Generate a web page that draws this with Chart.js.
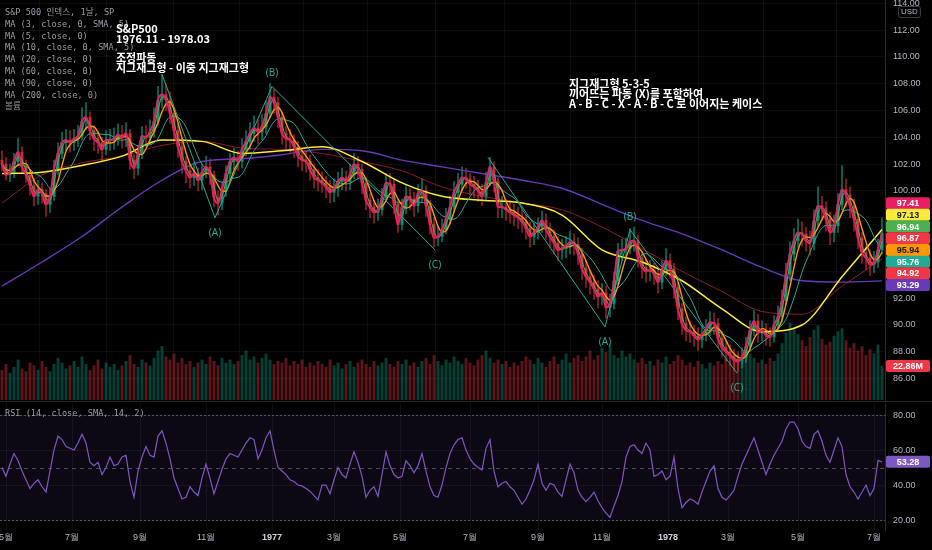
<!DOCTYPE html>
<html>
<head>
<meta charset="utf-8">
<script src="https://cdn.jsdelivr.net/npm/chart.js@4.4.1/dist/chart.umd.min.js"></script>
<style>
body { margin: 0; background: #000; width: 932px; height: 550px; overflow: hidden; position: relative; }
canvas { position: absolute; left: 0; }
#price { top: 0; }
#rsi { top: 402px; }
.legend { position: absolute; left: 5px; font: 8.6px "DejaVu Sans Mono", "Noto Sans CJK KR", monospace; color: #9a9da4; line-height: 11.8px; white-space: pre; }
.note { position: absolute; color: #fff; font: bold 11px "Noto Sans CJK KR", "Noto Sans", sans-serif; line-height: 9.8px; white-space: pre; }
.usd { position: absolute; left: 898px; top: 6px; padding: 0 2px; border: 1px solid #3a3d45; border-radius: 3px; background: #000; color: #b2b5be; font: 8px "Liberation Sans", sans-serif; line-height: 10px; }
</style>
</head>
<body>
<canvas id="price" width="932" height="402"></canvas>
<canvas id="rsi" width="932" height="148"></canvas>
<div class="legend" style="top:7px">S&amp;P 500 인덱스, 1날, SP
MA (3, close, 0, SMA, 5)
MA (5, close, 0)
MA (10, close, 0, SMA, 5)
MA (20, close, 0)
MA (60, close, 0)
MA (90, close, 0)
MA (200, close, 0)
볼륨</div>
<div class="note" style="left:116px;top:24px">S&amp;P500
1976.11 - 1978.03

조정파동
지그재그형 - 이중 지그재그형</div>
<div class="note" style="left:569px;top:79px">지그재그형 5-3-5
끼어뜨는 파동 (X)를 포함하여
A - B - C - X - A - B - C 로 이어지는 케이스</div>
<div class="legend" style="top:408px">RSI (14, close, SMA, 14, 2)</div>
<div class="usd">USD</div>
<script>
// S&P 500, May 1976 - Jul 1978, one bar ~ 2.5 trading days
const firstOpen = 102.3;
const closes = [
  102.0, 101.2, 101.4, 102.2, 102.9, 101.8, 101.2, 100.4, 99.6, 100.1,
  99.8, 99.0, 99.6, 101.6, 102.8, 103.6, 103.8, 103.6, 103.9, 104.1,
  105.2, 105.5, 104.5, 103.9, 103.6, 103.1, 103.8, 103.8, 103.9, 104.2,
  104.0, 104.3, 102.3, 101.7, 102.8, 104.1, 104.0, 104.4, 105.2, 106.8,
  107.2, 106.8, 105.8, 104.5, 103.3, 102.2, 101.5, 101.0, 101.3, 100.8,
  101.4, 101.8, 101.2, 99.5, 99.1, 100.1, 101.3, 102.2, 102.5, 102.2,
  103.1, 103.7, 104.3, 104.7, 104.4, 104.8, 105.8, 107.0, 106.6, 105.5,
  104.3, 103.9, 103.8, 103.3, 102.6, 102.3, 102.2, 101.6, 101.0, 100.8,
  100.6, 100.3, 99.9, 100.2, 100.7, 101.0, 100.7, 101.2, 102.0, 101.6,
  100.6, 99.3, 98.8, 98.4, 98.6, 99.5, 100.6, 100.5, 99.0, 97.5,
  98.8, 99.6, 99.4, 98.9, 99.8, 100.0, 98.9, 97.5, 96.5, 96.6,
  97.1, 97.9, 98.8, 99.9, 100.5, 101.0, 100.9, 100.5, 100.3, 100.0,
  99.6, 100.6, 101.8, 100.7, 98.8, 98.8, 98.6, 98.4, 98.2, 98.0,
  97.7, 97.2, 96.6, 96.9, 97.3, 97.8, 97.1, 96.6, 96.1, 95.6,
  95.7, 95.9, 96.2, 96.0, 95.3, 94.2, 93.6, 93.2, 92.7, 92.1,
  92.4, 91.3, 91.6, 93.3, 95.5, 95.6, 95.7, 96.2, 96.3, 95.0,
  94.3, 94.0, 94.1, 93.8, 93.2, 94.1, 94.8, 94.2, 92.8, 91.2,
  90.1, 89.6, 89.5, 89.2, 88.9, 89.3, 89.7, 90.2, 90.1, 89.0,
  88.3, 88.0, 87.7, 87.4, 87.3, 87.6, 88.4, 89.6, 90.3, 89.4,
  89.6, 89.2, 89.1, 90.0, 90.6, 91.8, 93.8, 95.3, 96.3, 96.9,
  96.8, 96.3, 96.1, 97.8, 98.9, 98.7, 97.9, 96.9, 97.4, 99.0,
  100.1, 99.7, 98.9, 97.9, 96.5, 95.4, 95.0, 94.5, 94.7, 95.6, 96.87
];
const highs = [
  103.0, 102.5, 102.0, 102.8, 103.9, 103.3, 102.3, 101.6, 100.9, 100.8,
  100.6, 100.1, 100.2, 102.3, 103.6, 104.4, 104.6, 104.5, 104.6, 104.9,
  106.2, 106.6, 105.9, 104.9, 104.4, 104.0, 104.5, 104.6, 104.7, 105.0,
  104.9, 105.1, 104.6, 102.7, 103.4, 104.8, 104.9, 105.3, 106.2, 107.8,
  108.7, 108.0, 107.4, 106.2, 105.0, 103.8, 102.6, 102.0, 102.1, 101.7,
  102.0, 102.6, 102.4, 101.5, 100.0, 100.7, 101.9, 102.8, 103.2, 103.0,
  103.9, 104.5, 105.1, 105.6, 105.3, 105.7, 106.7, 108.0, 107.6, 107.0,
  105.9, 104.8, 104.6, 104.2, 103.7, 103.2, 103.0, 102.7, 102.0, 101.6,
  101.4, 101.1, 100.8, 100.9, 101.4, 101.7, 101.5, 102.0, 102.8, 102.6,
  102.0, 101.0, 99.8, 99.3, 99.4, 100.2, 101.3, 101.3, 100.9, 99.4,
  99.4, 100.4, 100.2, 99.9, 100.5, 100.9, 100.4, 99.3, 98.0, 97.3,
  97.9, 98.7, 99.6, 100.7, 101.3, 101.8, 101.7, 101.3, 101.1, 100.8,
  100.5, 101.4, 102.5, 102.2, 101.0, 99.6, 99.4, 99.3, 99.0, 98.8,
  98.6, 98.2, 97.7, 97.6, 98.0, 98.5, 98.3, 97.6, 97.1, 96.6,
  96.4, 96.6, 97.0, 96.8, 96.5, 95.7, 94.8, 94.1, 93.7, 93.3,
  93.1, 92.9, 92.3, 93.9, 96.1, 96.4, 96.5, 97.2, 97.3, 96.7,
  95.5, 94.9, 94.8, 94.6, 94.3, 94.8, 95.7, 95.3, 94.6, 93.2,
  91.6, 90.6, 90.3, 90.0, 89.8, 90.0, 90.4, 91.0, 90.9, 90.5,
  89.5, 88.8, 88.5, 88.2, 88.0, 88.3, 89.1, 90.3, 91.1, 90.8,
  90.3, 90.1, 89.8, 90.7, 91.4, 92.6, 94.6, 96.2, 97.2, 97.9,
  97.7, 97.3, 97.0, 98.6, 100.3, 99.6, 99.2, 98.4, 98.2, 99.8,
  101.9, 100.9, 100.3, 99.4, 98.3, 96.9, 95.9, 95.6, 95.5, 96.4, 98.0
];
const lows = [
  101.5, 100.8, 100.7, 101.0, 101.9, 101.3, 100.6, 99.7, 98.9, 99.0,
  99.1, 98.1, 98.4, 99.3, 101.2, 102.4, 103.0, 102.9, 103.0, 103.3,
  103.8, 104.6, 103.8, 103.0, 102.8, 102.2, 102.7, 103.0, 103.1, 103.4,
  103.2, 103.3, 101.6, 100.9, 101.2, 102.4, 103.3, 103.6, 104.0, 104.9,
  106.2, 106.0, 105.0, 103.7, 102.5, 101.3, 100.6, 100.2, 100.4, 100.0,
  100.1, 101.0, 100.5, 98.8, 98.2, 98.6, 99.6, 100.8, 101.6, 101.5,
  101.7, 102.6, 103.1, 103.7, 103.5, 103.8, 104.3, 105.5, 105.8, 104.7,
  103.5, 103.0, 102.9, 102.5, 101.8, 101.5, 101.4, 100.8, 100.2, 100.0,
  99.9, 99.5, 99.1, 99.2, 99.6, 100.1, 100.0, 100.1, 100.9, 100.9,
  99.8, 98.6, 98.0, 97.6, 97.8, 98.2, 99.2, 99.8, 98.3, 96.9,
  97.1, 98.3, 98.6, 98.1, 98.4, 99.2, 98.1, 96.8, 95.8, 95.9,
  96.2, 96.8, 97.5, 98.4, 99.4, 100.0, 100.2, 99.7, 99.5, 99.2,
  98.9, 99.3, 100.4, 99.9, 98.0, 98.0, 97.8, 97.6, 97.4, 97.2,
  96.9, 96.4, 95.8, 96.0, 96.4, 96.9, 96.4, 95.8, 95.3, 94.8,
  94.9, 95.0, 95.3, 95.2, 94.5, 93.4, 92.8, 92.3, 91.9, 91.3,
  91.5, 90.5, 90.6, 91.2, 93.0, 94.8, 94.9, 95.3, 95.5, 94.3,
  93.5, 93.2, 93.3, 93.0, 92.4, 92.7, 93.7, 93.5, 92.0, 90.4,
  89.3, 88.8, 88.7, 88.4, 88.1, 88.3, 88.8, 89.2, 89.3, 88.3,
  87.6, 87.3, 87.0, 86.6, 86.5, 86.8, 87.2, 88.1, 89.2, 88.7,
  88.8, 88.5, 88.4, 88.7, 89.6, 90.2, 91.5, 93.3, 94.8, 95.8,
  95.9, 95.5, 95.2, 95.6, 97.3, 97.8, 97.0, 96.0, 96.2, 96.9,
  98.6, 98.8, 98.0, 97.0, 95.7, 94.6, 94.1, 93.7, 93.9, 94.3, 95.3
];
// volume, millions of shares
const volumes = [
  20, 24, 18, 22, 27, 21, 19, 25, 23, 20,
  26, 22, 19, 24, 28, 25, 21, 23, 26, 22,
  29, 24, 20, 23, 27, 21, 25, 22, 24, 20,
  23, 26, 30, 24, 22, 27, 25, 23, 28, 33,
  36, 29, 27, 31, 25, 28, 24, 26, 22, 25,
  27, 24, 29, 26, 23, 28, 25, 27, 24, 26,
  30, 33, 27, 29, 25, 28, 31, 27, 24, 26,
  25, 28, 23, 26, 24, 27, 22, 25, 23, 26,
  24, 22, 27, 23, 25, 21, 24, 26, 22, 25,
  27, 24, 22, 26, 23, 25, 28, 24, 22, 26,
  24, 27, 23, 25, 22, 26, 28, 24, 30, 26,
  23, 27, 25, 29, 26, 24, 28, 25, 23, 27,
  30, 33, 28, 25, 27, 24, 26, 22, 25, 23,
  26, 29, 27, 24, 28, 25, 22, 26, 29, 24,
  27, 31, 25, 28, 30, 26, 29, 33, 27, 30,
  35, 32, 37, 30, 28, 33, 29, 31, 27, 25,
  28, 24, 26, 23, 27, 25, 29, 24, 26, 30,
  27, 23, 25, 22, 26, 24, 21, 25, 23, 26,
  24, 28, 25, 27, 30, 26, 29, 31, 28, 25,
  27, 24, 28, 26, 31, 38, 45, 52, 48, 44,
  40, 36, 42, 47, 50, 41, 37, 39, 43, 46,
  48, 40, 35, 38, 33, 36, 30, 34, 31, 37, 22.86
];
const rsiValues = [
  50, 45, 52, 58, 54, 48, 43, 38, 41, 43,
  39, 36, 48, 60, 68, 66, 62, 61, 60, 64,
  69, 64, 53, 51, 53, 46, 50, 56, 51, 52,
  56, 57, 42, 33, 48, 56, 62, 57, 56, 68,
  71, 64, 55, 44, 38, 32, 33, 39, 36, 34,
  44, 52, 44, 35, 42, 49, 55, 58, 57, 56,
  60, 64, 67, 66, 55, 60, 67, 71, 60, 50,
  48, 46, 43, 42, 40, 39.5, 38, 36.5, 34, 31.5,
  40, 40, 35, 43, 50, 46, 44, 52, 59, 53,
  45, 33, 37, 39, 33.5, 46, 59, 51, 46, 44,
  45, 54, 51, 47, 51, 58, 48, 39, 34, 33,
  40, 50, 58, 63, 66, 67, 60, 55, 52, 50,
  48.6, 61, 66, 48, 39, 41, 42, 39, 37, 33,
  29, 32, 37, 43, 52, 41, 37, 41, 40, 36,
  33.5, 43, 52, 47, 37, 33, 30.5, 33, 36, 31,
  27, 24, 21.5, 28, 34, 42, 56, 62, 63, 60,
  58, 64, 60, 45, 46, 48, 43, 45, 56, 38,
  27, 30, 32, 31, 29, 36, 42, 48, 51, 38,
  33, 31.5, 34, 37, 45, 52, 57, 62, 67, 60,
  53, 46, 52, 57, 61, 65, 72, 76, 76, 72,
  65, 62, 61, 69, 71, 65, 57, 53, 60, 67,
  62, 46, 39, 36, 32, 36, 40, 34, 38, 54, 53.28
];
// slow moving averages, one reading every maSampleStep bars
const maSampleStep = 10;
const ma60Samples = [101.3, 101.4, 101.9, 102.6, 103.8, 103.7, 102.8, 103.0, 103.3, 102.2, 100.6, 99.6,
  99.3, 99.1, 98.2, 95.6, 94.7, 93.3, 91.2, 89.5, 90.0, 93.6, 97.13];
const ma90Samples = [99.1, 101.2, 102.1, 102.6, 103.4, 103.7, 103.2, 103.1, 102.8, 102.2, 101.5, 100.3,
  99.6, 99.1, 98.6, 97.3, 95.7, 94.0, 92.5, 91.0, 90.8, 92.9, 94.92];
const ma200Samples = [92.9, 94.7, 96.6, 98.8, 100.8, 102.2, 102.4, 102.7, 103.1, 103.0, 102.3, 101.8,
  101.3, 100.8, 100.2, 99.0, 97.8, 96.8, 95.6, 94.3, 93.3, 93.2, 93.29];
const maDays = { ma3: 3, ma5: 5, ma10: 10, ma20: 20 };
const daysPerBar = 2.5;

// elliott wave marks: [bar, price]
const wave1 = [[40, 108.7], [53.25, 98.0], [67.5, 107.8], [108.25, 95.6]];
const wave2 = [[121.5, 102.5], [150.75, 89.85], [157, 97.1], [183.75, 86.4]];
const waveLabels = ['', '(A)', '(B)', '(C)'];

const monthLabels = ['5월', '7월', '9월', '11월', '1977', '3월', '5월', '7월', '9월', '11월', '1978', '3월', '5월', '7월'];
const monthStarts = [1, 17.5, 34.5, 51, 67.5, 83, 99.5, 117, 134, 150, 166.5, 181.5, 199, 218];
const priceTicks = [86, 88, 90, 92, 94, 96, 98, 100, 102, 104, 106, 108, 110, 112, 114];
const rsiTicks = [20, 40, 60, 80];
const rsiUpper = 80, rsiMiddle = 50, rsiLower = 20;

const tagValues = [97.41, 97.13, 96.94, 96.87, 95.94, 95.76, 94.92, 93.29];
const tagColors = ['#e91e63', '#ffeb3b', '#4caf50', '#f23645', '#ff9800', '#22ab94', '#f23645', '#673ab7'];
const tagTextColors = ['#fff', '#131722', '#fff', '#fff', '#131722', '#fff', '#fff', '#fff'];

const UP = '#089981';
const DOWN = '#f23645';
const GRID = 'rgba(255,255,255,0.05)';
const AXIS_TEXT = '#b2b5be';
const lastBar = closes.length - 1;

function sma(values, n) {
    return values.map((v, i) => {
        const part = values.slice(Math.max(0, i - n + 1), i + 1);
        return part.reduce((a, b) => a + b, 0) / part.length;
    });
}

function barsFor(days) {
    return Math.max(1, Math.round(days / daysPerBar));
}

const opens = closes.map((c, i) => i === 0 ? firstOpen : closes[i - 1]);
const isUp = closes.map((c, i) => c >= opens[i]);
const xy = arr => arr.map((v, i) => ({ x: i, y: v }));
const sampled = arr => arr.map((v, k) => ({ x: Math.min(k * maSampleStep, lastBar), y: v }));
const line = (data, color, width, order) => ({
    type: 'line', data: data, yAxisID: 'price', borderColor: color, borderWidth: width,
    pointRadius: 0, tension: 0, cubicInterpolationMode: 'monotone', order: order
});

// keep the plot edge-to-edge: no extra room for edge tick labels
function noEdgePadding(s) {
    s.paddingTop = 0;
    s.paddingBottom = 0;
    s.paddingLeft = 0;
    s.paddingRight = 0;
}

function monthAxis(showLabels) {
    return {
        type: 'linear', min: -0.5, max: lastBar + 0.75, offset: false,
        afterBuildTicks: s => { s.ticks = monthStarts.map(v => ({ value: v })); },
        ticks: {
            display: showLabels, autoSkip: false, maxRotation: 0, padding: 2,
            color: c => /^\d{4}$/.test(monthLabels[c.index]) ? '#d1d4dc' : AXIS_TEXT,
            font: c => ({ size: 9, family: 'Liberation Sans', weight: /^\d{4}$/.test(monthLabels[c.index]) ? 'bold' : 'normal' }),
            callback: (v, i) => monthLabels[i]
        },
        grid: { color: GRID, drawTicks: false },
        border: { display: false },
        afterFit: s => { s.height = showLabels ? 20 : 0; noEdgePadding(s); }
    };
}

function valueAxis(min, max, ticks) {
    return {
        type: 'linear', position: 'right', min: min, max: max,
        afterBuildTicks: s => { s.ticks = ticks.map(v => ({ value: v })); },
        ticks: { color: AXIS_TEXT, font: { size: 9, family: 'Liberation Sans' }, padding: 8, callback: v => v.toFixed(2) },
        grid: { color: GRID, drawTicks: false },
        border: { color: '#2a2a2a' },
        afterFit: s => { s.width = 47; noEdgePadding(s); }
    };
}

function drawTag(ctx, x, y, text, bg, fg) {
    ctx.fillStyle = bg;
    ctx.beginPath();
    ctx.roundRect(x, y - 6, 44, 12, 2);
    ctx.fill();
    ctx.fillStyle = fg;
    ctx.fillText(text, x + 22, y + 0.5);
}

const wavePlugin = {
    id: 'waveLabels',
    afterDatasetsDraw(chart) {
        const { ctx, scales } = chart;
        ctx.save();
        ctx.font = '10px "Noto Sans", sans-serif';
        ctx.fillStyle = '#22ab94';
        ctx.textAlign = 'center';
        ctx.textBaseline = 'middle';
        [wave1, wave2].forEach(w => {
            w.forEach((p, k) => {
                const label = waveLabels[k];
                if (!label) return;
                const x = scales.x.getPixelForValue(p[0]);
                const y = scales.price.getPixelForValue(p[1]);
                ctx.fillText(label, x, y + (label === '(B)' ? -13 : 15));
            });
        });
        ctx.restore();
    }
};

const priceTagPlugin = {
    id: 'priceTags',
    afterDraw(chart) {
        const { ctx, chartArea, scales } = chart;
        const x = chartArea.right + 1;
        const h = 11.7;
        const ys = tagValues.map(v => scales.price.getPixelForValue(v));
        for (let k = 0; k < 80; k++) {
            for (let j = 1; j < ys.length; j++) {
                const gap = ys[j] - ys[j - 1];
                if (gap < h) {
                    const d = (h - gap) / 2;
                    ys[j - 1] -= d;
                    ys[j] += d;
                }
            }
        }
        ctx.save();
        ctx.strokeStyle = '#262626';
        ctx.lineWidth = 1;
        ctx.beginPath();
        ctx.moveTo(0, 401.5);
        ctx.lineTo(chart.width, 401.5);
        ctx.stroke();
        ctx.font = 'bold 9px "Liberation Sans", sans-serif';
        ctx.textAlign = 'center';
        ctx.textBaseline = 'middle';
        tagValues.forEach((v, i) => drawTag(ctx, x, ys[i], v.toFixed(2), tagColors[i], tagTextColors[i]));
        const vy = scales.vol.getPixelForValue(volumes[lastBar]);
        drawTag(ctx, x, vy, volumes[lastBar].toFixed(2) + 'M', DOWN, '#fff');
        ctx.restore();
    }
};

const rsiPlugin = {
    id: 'rsiBand',
    beforeDatasetsDraw(chart) {
        const { ctx, chartArea, scales: { y } } = chart;
        const top = y.getPixelForValue(rsiUpper);
        const bottom = y.getPixelForValue(rsiLower);
        ctx.save();
        ctx.fillStyle = 'rgba(126,87,194,0.1)';
        ctx.fillRect(chartArea.left, top, chartArea.width, bottom - top);
        ctx.strokeStyle = 'rgba(120,123,134,0.6)';
        ctx.lineWidth = 1;
        [[rsiUpper, [2, 2]], [rsiMiddle, [4, 4]], [rsiLower, [2, 2]]].forEach(([v, dash]) => {
            const py = Math.round(y.getPixelForValue(v)) + 0.5;
            ctx.setLineDash(dash);
            ctx.beginPath();
            ctx.moveTo(chartArea.left, py);
            ctx.lineTo(chartArea.right, py);
            ctx.stroke();
        });
        ctx.restore();
    },
    afterDraw(chart) {
        const { ctx, chartArea, scales: { y } } = chart;
        ctx.save();
        ctx.font = 'bold 9px "Liberation Sans", sans-serif';
        ctx.textAlign = 'center';
        ctx.textBaseline = 'middle';
        drawTag(ctx, chartArea.right + 1, y.getPixelForValue(rsiValues[lastBar]), rsiValues[lastBar].toFixed(2), '#7e57c2', '#fff');
        ctx.restore();
    }
};

function initPriceChart() {
    const ctx = document.getElementById('price').getContext('2d');
    new Chart(ctx, {
        type: 'bar',
        data: {
            datasets: [{
                type: 'bar', yAxisID: 'vol', grouped: false, order: 20, barThickness: 2.2,
                data: xy(volumes),
                backgroundColor: isUp.map(u => u ? 'rgba(8,153,129,0.42)' : 'rgba(242,54,69,0.38)')
            }, {
                type: 'bar', yAxisID: 'price', grouped: false, order: 19, barThickness: 1,
                data: closes.map((c, i) => ({ x: i, y: [lows[i], highs[i]] })),
                backgroundColor: isUp.map(u => u ? 'rgba(8,153,129,0.75)' : 'rgba(242,54,69,0.6)')
            }, {
                type: 'bar', yAxisID: 'price', grouped: false, order: 18, barThickness: 2.4,
                data: closes.map((c, i) => ({ x: i, y: [opens[i], c] })),
                backgroundColor: isUp.map(u => u ? 'rgba(8,153,129,0.9)' : 'rgba(242,54,69,0.7)')
            },
            line(sampled(ma200Samples), '#673ab7', 1.4, 10),
            line(sampled(ma90Samples), 'rgba(242,54,69,0.55)', 1, 9),
            line(sampled(ma60Samples), '#ffeb3b', 1.5, 8),
            line(xy(sma(closes, barsFor(maDays.ma20))), '#22ab94', 1, 7),
            line(xy(sma(closes, barsFor(maDays.ma10))), '#ff9800', 1.4, 6),
            line(xy(sma(closes, barsFor(maDays.ma5))), '#4caf50', 1, 5),
            Object.assign(line(wave1.map(p => ({ x: p[0], y: p[1] })), '#22ab94', 1, 4), { cubicInterpolationMode: 'default' }),
            Object.assign(line(wave2.map(p => ({ x: p[0], y: p[1] })), '#22ab94', 1, 4), { cubicInterpolationMode: 'default' }),
            line(xy(sma(closes, barsFor(maDays.ma3))), '#e91e63', 2, 1)]
        },
        options: {
            responsive: false,
            devicePixelRatio: 1,
            animation: false,
            events: [],
            layout: { padding: { left: 0, right: 0, top: 0, bottom: 2 } },
            plugins: { legend: { display: false }, tooltip: { enabled: false } },
            scales: {
                x: monthAxis(false),
                price: valueAxis(84.4, 114.25, priceTicks),
                vol: { type: 'linear', display: false, min: 0, max: 269 }
            }
        },
        plugins: [wavePlugin, priceTagPlugin]
    });
}

function initRsiChart() {
    const ctx = document.getElementById('rsi').getContext('2d');
    new Chart(ctx, {
        type: 'line',
        data: {
            datasets: [{
                data: xy(rsiValues),
                borderColor: '#7e57c2',
                borderWidth: 1.2,
                pointRadius: 0,
                tension: 0
            }]
        },
        options: {
            responsive: false,
            devicePixelRatio: 1,
            animation: false,
            events: [],
            layout: { padding: { left: 0, right: 0, top: 1, bottom: 0 } },
            plugins: { legend: { display: false }, tooltip: { enabled: false } },
            scales: {
                x: monthAxis(true),
                y: valueAxis(14.3, 86.9, rsiTicks)
            }
        },
        plugins: [rsiPlugin]
    });
}

initPriceChart();
initRsiChart();
</script>
</body>
</html>
